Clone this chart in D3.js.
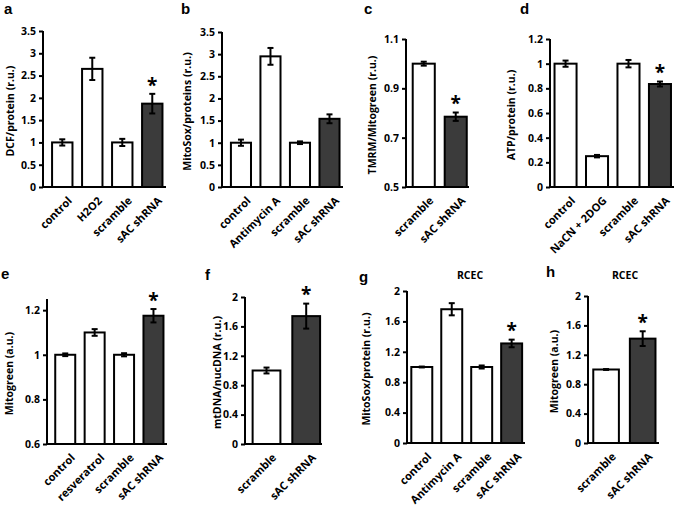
<!DOCTYPE html>
<html><head><meta charset="utf-8">
<script src="https://cdn.jsdelivr.net/npm/d3@7"></script>
<style>
html,body{margin:0;padding:0;background:#fff;}
svg{display:block;font-family:"Open Sans","Noto Sans",sans-serif;}
</style></head><body>
<svg id="chart" width="677" height="507"></svg>
<script>
// ---- data ----
const catsA = ["control", "H2O2", "scramble", "sAC shRNA"];
const valsA = [1.0, 2.65, 1.0, 1.87];
const errsA = [0.07, 0.25, 0.08, 0.22];
const starA = [0, 0, 0, 1];
const ticksA = [0, 0.5, 1, 1.5, 2, 2.5, 3, 3.5];

const catsB = ["control", "Antimycin A", "scramble", "sAC shRNA"];
const valsB = [1.0, 2.95, 1.0, 1.54];
const errsB = [0.07, 0.19, 0.03, 0.1];
const starB = [0, 0, 0, 0];
const ticksB = [0, 0.5, 1, 1.5, 2, 2.5, 3, 3.5];

const catsC = ["scramble", "sAC shRNA"];
const valsC = [1.0, 0.785];
const errsC = [0.008, 0.017];
const starC = [0, 1];
const ticksC = [0.5, 0.7, 0.9, 1.1];

const catsD = ["control", "NaCN + 2DOG", "scramble", "sAC shRNA"];
const valsD = [1.0, 0.25, 1.0, 0.835];
const errsD = [0.025, 0.01, 0.03, 0.02];
const starD = [0, 0, 0, 1];
const ticksD = [0, 0.2, 0.4, 0.6, 0.8, 1, 1.2];

const catsE = ["control", "resveratrol", "scramble", "sAC shRNA"];
const valsE = [1.0, 1.1, 1.0, 1.175];
const errsE = [0.006, 0.015, 0.007, 0.03];
const starE = [0, 0, 0, 1];
const ticksE = [0.6, 0.8, 1, 1.2];

const catsF = ["scramble", "sAC shRNA"];
const valsF = [1.0, 1.74];
const errsF = [0.04, 0.17];
const starF = [0, 1];
const ticksF = [0, 0.4, 0.8, 1.2, 1.6, 2];

const catsG = ["control", "Antimycin A", "scramble", "sAC shRNA"];
const valsG = [1.0, 1.76, 1.0, 1.31];
const errsG = [0.006, 0.08, 0.02, 0.05];
const starG = [0, 0, 0, 1];
const ticksG = [0, 0.4, 0.8, 1.2, 1.6, 2];

const catsH = ["scramble", "sAC shRNA"];
const valsH = [1.0, 1.42];
const errsH = [0.006, 0.1];
const starH = [0, 1];
const ticksH = [0, 0.4, 0.8, 1.2, 1.6, 2];

// ---- layout ----
const panels = [
  {letter:"a", lx:4, ly:14, cats:catsA, vals:valsA, errs:errsA, stars:starA, ticks:ticksA, dom:[0,3.5],
   ax:43, x1:166, yTop:31, yBot:187, pi:0.32, po:0.21, al:0.72, ylab:"DCF/protein (r.u.)", ylx:14},
  {letter:"b", lx:181, ly:14, cats:catsB, vals:valsB, errs:errsB, stars:starB, ticks:ticksB, dom:[0,3.5],
   ax:222, x1:343, yTop:32, yBot:187, pi:0.32, po:0.21, al:0.72, ylab:"MitoSox/proteins (r.u.)", ylx:191},
  {letter:"c", lx:364, ly:14, cats:catsC, vals:valsC, errs:errsC, stars:starC, ticks:ticksC, dom:[0.5,1.1],
   ax:406, x1:469, yTop:39, yBot:187, pi:0.31, po:0.14, al:0.75, ylab:"TMRM/Mitogreen (r.u.)", ylx:376},
  {letter:"d", lx:520, ly:14, cats:catsD, vals:valsD, errs:errsD, stars:starD, ticks:ticksD, dom:[0,1.2],
   ax:550, x1:674, yTop:39, yBot:187, pi:0.3, po:0.12, al:0.6, ylab:"ATP/protein (r.u.)", ylx:515},
  {letter:"e", lx:1, ly:279, cats:catsE, vals:valsE, errs:errsE, stars:starE, ticks:ticksE, dom:[0.6,1.25],
   ax:47, x1:167, yTop:299, yBot:444, pi:0.32, po:0.2, al:0.7, ylab:"Mitogreen (a.u.)", ylx:13},
  {letter:"f", lx:205, ly:280, cats:catsF, vals:valsF, errs:errsF, stars:starF, ticks:ticksF, dom:[0,2],
   ax:245, x1:322, yTop:297, yBot:444, pi:0.3, po:0.12, al:0.8, ylab:"mtDNA/nucDNA (r.u.)", ylx:221},
  {letter:"g", lx:359, ly:282, cats:catsG, vals:valsG, errs:errsG, stars:starG, ticks:ticksG, dom:[0,2],
   ax:407, x1:525, yTop:291, yBot:443, pi:0.3, po:0.12, al:0.6, ylab:"MitoSox/protein (r.u.)", ylx:370, title:"RCEC", tx:470, ty:279},
  {letter:"h", lx:546, ly:277, cats:catsH, vals:valsH, errs:errsH, stars:starH, ticks:ticksH, dom:[0,2],
   ax:588, x1:659, yTop:296, yBot:443, pi:0.3, po:0.12, al:0.6, ylab:"Mitogreen (a.u.)", ylx:558, title:"RCEC", tx:625, ty:279}
];

const svg = d3.select("#chart");
const fmt = d => String(+d.toFixed(2));
const DARK = "#3b3b3b";
const FONT = "'Open Sans','Noto Sans',sans-serif";

panels.forEach(p => {
  const g = svg.append("g").attr("font-family", FONT);
  const y = d3.scaleLinear().domain(p.dom).range([p.yBot, p.yTop]);
  const x = d3.scaleBand().domain(p.cats).range([p.ax, p.x1])
              .paddingInner(p.pi).paddingOuter(p.po).align(p.al);

  // letter
  g.append("text").attr("x", p.lx).attr("y", p.ly).text(p.letter)
    .attr("font-family", "'Liberation Sans',Arial,sans-serif")
    .attr("font-size", 15).attr("font-weight", 700).attr("fill", "#000");
  if (p.title) {
    g.append("text").attr("x", p.tx).attr("y", p.ty).text(p.title)
      .attr("text-anchor", "middle").attr("font-size", 10.5).attr("font-weight", 700);
  }

  // bars
  const n = p.cats.length;
  g.selectAll("rect.bar").data(p.cats).enter().append("rect")
    .attr("x", d => x(d)).attr("width", x.bandwidth())
    .attr("y", (d, i) => y(p.vals[i])).attr("height", (d, i) => p.yBot - y(p.vals[i]))
    .attr("fill", (d, i) => i === n - 1 ? DARK : "#fff")
    .attr("stroke", "#000").attr("stroke-width", 2);

  // error bars
  p.cats.forEach((c, i) => {
    const cx = x(c) + x.bandwidth() / 2;
    const t = y(p.vals[i] + p.errs[i]), b = y(p.vals[i] - p.errs[i]);
    g.append("line").attr("x1", cx).attr("x2", cx).attr("y1", t).attr("y2", b)
      .attr("stroke", "#000").attr("stroke-width", 2);
    [t, b].forEach(yy => g.append("line").attr("x1", cx - 3).attr("x2", cx + 3)
      .attr("y1", yy).attr("y2", yy).attr("stroke", "#000").attr("stroke-width", 2));
    if (p.stars[i]) {
      g.append("text").attr("x", cx).attr("y", t - 1).text("*")
        .attr("text-anchor", "middle").attr("font-size", 19).attr("font-weight", 700).attr("dy", "0.62em")
        .attr("transform", `translate(0,-13)`);
    }
  });

  // y axis
  const yAxis = d3.axisLeft(y).tickValues(p.ticks).tickFormat(fmt).tickSize(4).tickSizeOuter(0);
  const ga = g.append("g").attr("transform", `translate(${p.ax},0)`).call(yAxis);
  ga.select(".domain").attr("stroke", "#000").attr("stroke-width", 2)
    .attr("d", `M0,${p.yTop}V${p.yBot + 1}`);
  ga.selectAll(".tick line").attr("stroke", "#000").attr("stroke-width", 2);
  ga.selectAll(".tick text").attr("font-size", 10.5).attr("font-weight", 700)
    .attr("font-family", FONT).attr("fill", "#000").attr("x", -7);

  // x axis baseline
  g.append("line").attr("x1", p.ax - 1).attr("x2", p.x1).attr("y1", p.yBot).attr("y2", p.yBot)
    .attr("stroke", "#000").attr("stroke-width", 2);

  // x labels
  p.cats.forEach(c => {
    const cx = x(c) + x.bandwidth() / 2;
    g.append("text").text(c)
      .attr("transform", `translate(${cx + 5},${p.yBot + 9}) rotate(-45)`)
      .attr("text-anchor", "end").attr("dy", "0.7em")
      .attr("font-size", 11).attr("font-weight", 700);
  });

  // y label
  g.append("text").text(p.ylab)
    .attr("transform", `translate(${p.ylx},${(p.yTop + p.yBot) / 2 + 2}) rotate(-90)`)
    .attr("text-anchor", "middle").attr("font-size", 10.5).attr("font-weight", 700);
});
</script>
</body></html>
